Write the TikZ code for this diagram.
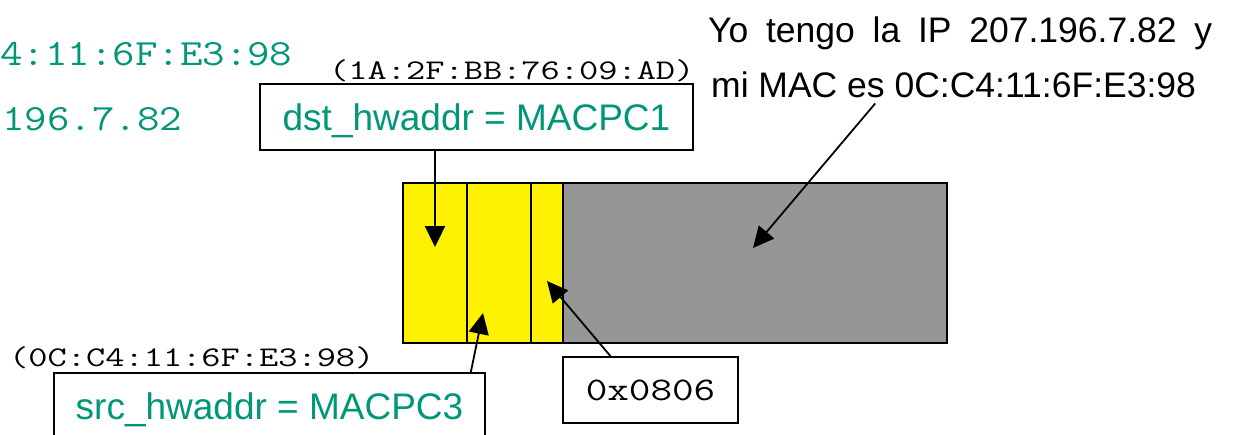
\documentclass[tikz,border=0pt]{standalone}
\usepackage{fontspec}
\setmainfont{Liberation Sans}
\usetikzlibrary{arrows.meta}
\definecolor{macgreen}{RGB}{0,150,120}
\definecolor{datagray}{RGB}{150,150,150}
\newcommand{\widett}[3]{\scalebox{#2}[1]{\fontsize{#1}{#1}\selectfont\ttfamily #3}}

\begin{document}
\begin{tikzpicture}[x=1pt,y=-1pt,
  field/.style={draw,line width=1.6pt,minimum height=66pt,inner sep=0pt,text depth=0pt},
  hwfield/.style={field,text=macgreen,text height=26pt,font=\fontsize{37}{40}\selectfont},
  ptr/.style={line width=1.8pt,-{Triangle[length=21pt,width=20pt]}}]
\useasboundingbox (0,0) rectangle (1256,434);

% trama
\filldraw[fill=yellow,line width=2pt] (403,183) rectangle (563,343);
\filldraw[fill=datagray,line width=2pt] (563,183) rectangle (947,343);
\draw[line width=2pt] (467,183) -- (467,343);
\draw[line width=2pt] (531,183) -- (531,343);

\node[anchor=base west,inner sep=0pt,text=macgreen] (mac) at (0,65) {\widett{37}{1.18}{4:11:6F:E3:98}};
\node[anchor=base west,inner sep=0pt,text=macgreen] (ip) at (2,130) {\widett{37}{1.18}{196.7.82}};

\node[hwfield,minimum width=433pt] (dst) at (476.5,117) {dst\_hwaddr = MACPC1};
\node[hwfield,minimum width=431pt] (src) at (269.5,406) {src\_hwaddr = MACPC3};
\node[field,minimum width=175pt,text height=20pt] (type) at (650.5,390) {\widett{33}{1.27}{0x0806}};

\node[anchor=base west,inner sep=0pt] (dstmac) at (329,79) {\widett{28.5}{1.31}{(1A:2F:BB:76:09:AD)}};
\node[anchor=base west,inner sep=0pt] (srcmac) at (9,366) {\widett{28.5}{1.31}{(0C:C4:11:6F:E3:98)}};

\node[anchor=north west,inner sep=0pt,align=left,font=\fontsize{35.5}{55}\selectfont] (yo) at (708,17)
  {\makebox[504pt][s]{Yo tengo la IP 207.196.7.82 y}\\\hspace{3pt}mi MAC es 0C:C4:11:6F:E3:98};

\coordinate (dstin) at (435,247);
\coordinate (srcin) at (483,313);
\coordinate (typein) at (547,281);
\coordinate (datain) at (753,248);

\draw[ptr,line width=2.4pt] (dst.south -| dstin) -- (dstin);
\draw[ptr] ([xshift=-15pt]src.north east) -- (srcin);
\draw[ptr] ([xshift=-40pt]type.north) -- (typein);
\draw[ptr] ([xshift=-85pt,yshift=-5pt]yo.south) -- (datain);
\end{tikzpicture}
\end{document}
